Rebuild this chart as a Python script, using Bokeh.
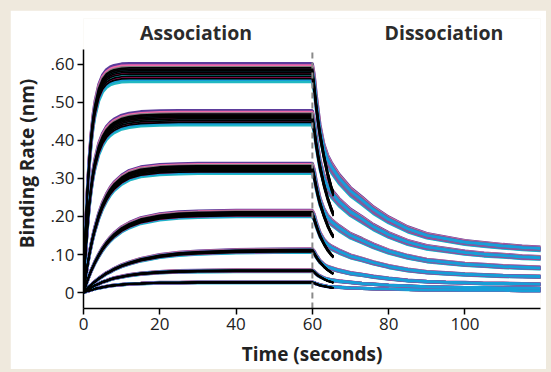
from bokeh.plotting import figure
from bokeh.models import (ColumnDataSource, Range1d, FixedTicker, CustomJSTickFormatter,
                          Label, GlobalInlineStyleSheet)
from bokeh.embed import file_html
from bokeh.resources import INLINE

# ---------------- data ----------------
t_assoc = [0, 0.5, 1, 1.5, 2, 2.5, 3, 4, 5, 6, 7, 8, 10, 12, 15, 20, 25, 30, 40, 50, 60]
assoc = [
    [0, 0.152, 0.264, 0.347, 0.409, 0.455, 0.488, 0.532, 0.556, 0.569, 0.576, 0.580, 0.584, 0.585, 0.585, 0.585, 0.585, 0.585, 0.585, 0.585, 0.585],
    [0, 0.099, 0.174, 0.234, 0.279, 0.315, 0.342, 0.382, 0.407, 0.424, 0.435, 0.443, 0.453, 0.458, 0.462, 0.464, 0.465, 0.465, 0.465, 0.465, 0.465],
    [0, 0.037, 0.070, 0.100, 0.126, 0.149, 0.169, 0.204, 0.231, 0.252, 0.269, 0.282, 0.300, 0.312, 0.321, 0.327, 0.329, 0.330, 0.330, 0.330, 0.330],
    [0, 0.016, 0.031, 0.045, 0.058, 0.069, 0.080, 0.099, 0.116, 0.130, 0.142, 0.152, 0.168, 0.179, 0.191, 0.201, 0.206, 0.208, 0.210, 0.210, 0.210],
    [0, 0.005, 0.011, 0.016, 0.020, 0.025, 0.029, 0.037, 0.044, 0.051, 0.056, 0.062, 0.071, 0.078, 0.087, 0.097, 0.103, 0.106, 0.110, 0.111, 0.112],
    [0, 0.004, 0.007, 0.010, 0.013, 0.016, 0.019, 0.023, 0.028, 0.031, 0.035, 0.038, 0.042, 0.046, 0.050, 0.054, 0.056, 0.057, 0.058, 0.058, 0.058],
    [0, 0.002, 0.004, 0.005, 0.007, 0.008, 0.010, 0.012, 0.014, 0.016, 0.018, 0.019, 0.021, 0.023, 0.024, 0.026, 0.026, 0.027, 0.027, 0.027, 0.027],
]

t_dissoc = [60, 60.5, 61, 61.5, 62, 63, 64, 65, 67, 70, 73, 76, 80, 85, 90, 95, 100, 105, 110, 115, 120]
dissoc = [
    [0.585, 0.556, 0.507, 0.468, 0.429, 0.380, 0.351, 0.332, 0.302, 0.268, 0.244, 0.219, 0.193, 0.168, 0.151, 0.142, 0.133, 0.128, 0.123, 0.119, 0.116],
    [0.465, 0.442, 0.403, 0.372, 0.341, 0.302, 0.279, 0.264, 0.240, 0.213, 0.194, 0.174, 0.153, 0.133, 0.120, 0.113, 0.106, 0.101, 0.098, 0.094, 0.092],
    [0.330, 0.314, 0.286, 0.264, 0.242, 0.215, 0.198, 0.187, 0.171, 0.151, 0.138, 0.124, 0.109, 0.095, 0.085, 0.080, 0.075, 0.072, 0.069, 0.067, 0.065],
    [0.210, 0.200, 0.182, 0.168, 0.154, 0.137, 0.126, 0.119, 0.109, 0.096, 0.088, 0.079, 0.069, 0.060, 0.054, 0.051, 0.048, 0.046, 0.044, 0.043, 0.042],
    [0.112, 0.106, 0.097, 0.090, 0.082, 0.073, 0.067, 0.064, 0.058, 0.051, 0.047, 0.042, 0.037, 0.032, 0.029, 0.027, 0.026, 0.024, 0.024, 0.023, 0.022],
    [0.058, 0.055, 0.050, 0.046, 0.043, 0.038, 0.035, 0.033, 0.030, 0.027, 0.024, 0.022, 0.019, 0.017, 0.015, 0.014, 0.013, 0.013, 0.012, 0.012, 0.011],
    [0.027, 0.026, 0.023, 0.022, 0.020, 0.018, 0.016, 0.015, 0.014, 0.012, 0.011, 0.010, 0.009, 0.008, 0.007, 0.007, 0.006, 0.006, 0.006, 0.005, 0.005],
]

t_fit_dissoc = [60, 60.5, 61, 61.5, 62, 63, 64, 65, 65.5]
fit_dissoc = [
    [0.585, 0.544, 0.497, 0.456, 0.421, 0.363, 0.316, 0.278, 0.263],
    [0.465, 0.432, 0.395, 0.363, 0.335, 0.288, 0.251, 0.221, 0.209],
    [0.330, 0.307, 0.281, 0.257, 0.238, 0.205, 0.178, 0.157, 0.149],
    [0.210, 0.195, 0.179, 0.164, 0.151, 0.130, 0.113, 0.100, 0.095],
    [0.112, 0.104, 0.095, 0.087, 0.081, 0.069, 0.060, 0.053, 0.050],
    [0.058, 0.054, 0.049, 0.045, 0.042, 0.036, 0.031, 0.028, 0.026],
    [0.027, 0.025, 0.023, 0.021, 0.019, 0.017, 0.015, 0.013, 0.012],
]

# replicate traces (relative scale of each replicate), drawn in this order
replicate_scales = [0.948, 1.03, 0.958, 1.02, 0.968, 1.012, 0.978, 1.004, 0.988, 0.996]
replicate_colors = ["#22b8c2", "#5b3b9b", "#169fd8", "#f06aa8", "#e3177f", "#7f7f7f",
                    "#19a9b5", "#8b3fa5", "#e3177f", "#169fd8"]
fit_scales = [0.962, 0.972, 0.982, 0.99, 0.997, 1.004, 1.01]

x_ticks = [0, 20, 40, 60, 80, 100]
y_ticks = [0, 0.1, 0.2, 0.3, 0.4, 0.5, 0.6]
y_tick_labels = ["0", ".10", ".20", ".30", ".40", ".50", ".60"]
phase_labels = ["Association", "Dissociation"]
phase_label_x = [29.5, 94.5]
phase_boundary = 60
x_min, x_max = 0, 119.8
y_min, y_max = -0.042, 0.640

# ---------------- build ----------------
FONT = "Open Sans"
p = figure(width=536, height=359, output_backend="svg", toolbar_location=None,
           x_range=Range1d(x_min, x_max), y_range=Range1d(y_min, 0.7208),
           min_border_left=71, min_border_right=6, min_border_top=8, min_border_bottom=59)
p.stylesheets = [GlobalInlineStyleSheet(
    css="html, body { background-color: #efe9dd !important; } body { padding: 10px 0 0 10px !important; }")]
p.background_fill_color = "white"
p.border_fill_color = "white"
p.outline_line_color = None
p.grid.visible = False

xs, ys, cs = [], [], []
for s, c in zip(replicate_scales, replicate_colors):
    for a, d in zip(assoc, dissoc):
        xs.append(t_assoc + t_dissoc[1:])
        ys.append([v * s for v in a + d[1:]])
        cs.append(c)
p.multi_line(xs="xs", ys="ys", line_color="c", line_width=3,
             source=ColumnDataSource(dict(xs=xs, ys=ys, c=cs)))

fxs, fys = [], []
for s in fit_scales:
    for a, d in zip(assoc, fit_dissoc):
        fxs.append(t_assoc + t_fit_dissoc[1:])
        fys.append([v * s for v in a + d[1:]])
p.multi_line(xs="xs", ys="ys", line_color="black", line_width=1.7,
             source=ColumnDataSource(dict(xs=fxs, ys=fys)))

p.segment(x0=[phase_boundary], y0=[y_min], x1=[phase_boundary], y1=[y_max],
          line_color="#8a8a8a", line_width=2, line_dash="6 4")

for txt, x in zip(phase_labels, phase_label_x):
    p.add_layout(Label(x=x, y=0.684, text=txt, text_align="center", text_baseline="middle",
                       text_font=FONT, text_font_style="bold", text_font_size="19.5px",
                       text_color="#2b2b2b"))

for ax in (p.xaxis[0], p.yaxis[0]):
    ax.axis_line_color = "black"
    ax.axis_line_width = 1.5
    ax.major_tick_line_color = "black"
    ax.major_tick_line_width = 1.5
    ax.major_tick_out = 6
    ax.major_tick_in = 0
    ax.minor_tick_line_color = None
    ax.major_label_text_font = FONT
    ax.major_label_text_font_size = "17px"
    ax.major_label_text_color = "#222222"
    ax.axis_label_text_font = FONT
    ax.axis_label_text_font_style = "bold"
    ax.axis_label_text_font_size = "19px"
    ax.axis_label_text_color = "#222222"

p.xaxis[0].ticker = FixedTicker(ticks=x_ticks)
p.xaxis[0].axis_label = "Time (seconds)"
p.xaxis[0].major_label_standoff = 3
p.xaxis[0].axis_label_standoff = 8
p.yaxis[0].ticker = FixedTicker(ticks=y_ticks)
p.yaxis[0].bounds = (y_min, y_max)
p.yaxis[0].formatter = CustomJSTickFormatter(args=dict(vals=y_ticks, labels=y_tick_labels), code="""
    let best = 0;
    for (let i = 0; i < vals.length; i++) {
        if (Math.abs(vals[i] - tick) < Math.abs(vals[best] - tick)) best = i;
    }
    return labels[best];
""")
p.yaxis[0].axis_label = "Binding Rate (nm)"
p.yaxis[0].major_label_standoff = 3
p.yaxis[0].axis_label_standoff = 8

open("out.html", "w").write(file_html(p, INLINE))
